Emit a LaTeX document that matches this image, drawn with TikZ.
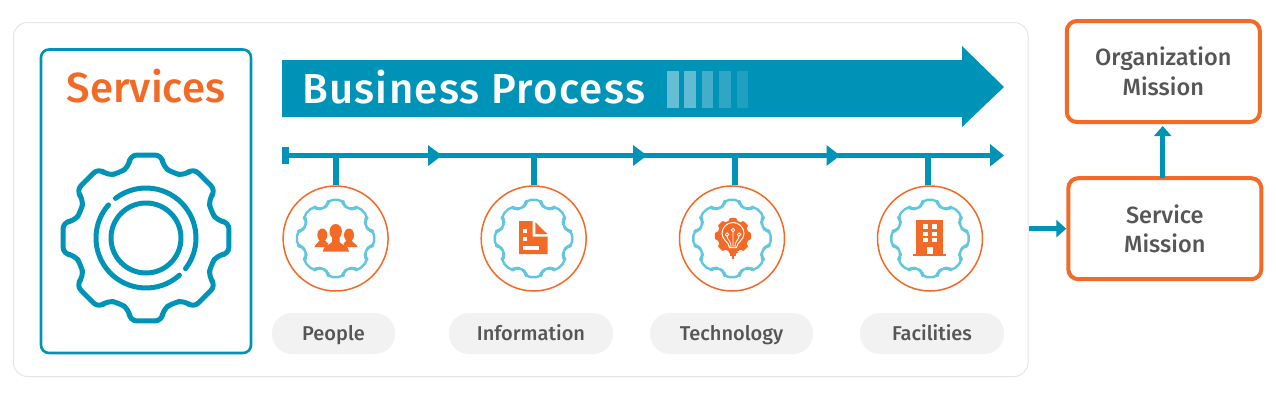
\documentclass[tikz,border=0pt]{standalone}
\usepackage{fontspec}
\setmainfont{Fira Sans}
\usetikzlibrary{arrows.meta,calc}
\definecolor{teal}{HTML}{0093B8}
\definecolor{orng}{HTML}{F26A26}
\definecolor{skyb}{HTML}{62C6DE}
\definecolor{pill}{HTML}{F2F2F2}
\definecolor{ink}{HTML}{565656}
\definecolor{edge}{HTML}{E6E6E6}
\newfontfamily\medfont{Fira Sans Medium}
\newfontfamily\widefont[LetterSpace=3]{Fira Sans Medium}
% gear outline: cx, cy, scale, rounding, style
\newcommand{\gearshape}[5]{%
  \draw[#5,rounded corners=#4] ($(#1,#2)+(22.5:#3*70.5)$)
    foreach \ga in {0,45,...,270}{
      -- ($(#1,#2)+(\ga+45-13.5:#3*73)$)
      -- ($(#1,#2)+(\ga+45-10.9:#3*84.5)$)
      -- ($(#1,#2)+(\ga+45+10.9:#3*84.5)$)
      -- ($(#1,#2)+(\ga+45+13.5:#3*73)$)
      -- ($(#1,#2)+(\ga+67.5:#3*70.5)$)
    }
      -- ($(#1,#2)+(346.5:#3*73)$)
      -- ($(#1,#2)+(349.1:#3*84.5)$)
      -- ($(#1,#2)+(10.9:#3*84.5)$)
      -- ($(#1,#2)+(13.5:#3*73)$)
      -- cycle;}
\tikzset{
  panel/.style={draw=edge,line width=1pt,rounded corners=14pt,fill=white},
  svcbox/.style={draw=teal,line width=2.6pt,rounded corners=8pt,fill=white},
  ring/.style={circle,draw=orng,line width=1.5pt,minimum size=105pt,inner sep=0pt},
  pillbox/.style={fill=pill,rounded corners=20pt,minimum height=41pt,inner sep=0pt,text=ink,text height=17pt,text depth=2.5pt,font=\medfont\fontsize{20}{24}\selectfont},
  mission/.style={draw=orng,line width=4pt,rounded corners=10pt,minimum width=193pt,minimum height=101pt,align=center,inner sep=0pt,text=ink,font=\medfont\fontsize{23.5}{29.5}\selectfont},
  bigarc/.style={draw=teal,line width=5pt,line cap=round},
  biggear/.style={draw=teal,line width=5pt,line join=round},
  smallgear/.style={draw=skyb,line width=2.4pt,line join=round},
  tline/.style={draw=teal,line width=5pt},
  stem/.style={draw=teal,line width=6pt},
  tiptri/.style={fill=teal},
  linkarrow/.style={draw=teal,line width=5pt,-{Triangle[length=10pt,width=17pt]}},
  iconfill/.style={fill=orng},
  holefill/.style={fill=white},
}
\begin{document}
\begin{tikzpicture}[x=1pt,y=-1pt]
\useasboundingbox (0,0) rectangle (1276,400);
\fill[white] (0,0) rectangle (1276,400);
% panel
\draw[panel] (13.5,22.5) rectangle (1028,376.5);
% services box
\draw[svcbox] (41,49.5) rectangle (251,353);
\node[text=orng,inner sep=0pt,font=\medfont\fontsize{42}{46}\selectfont] (services) at (146,86) {Services};
% big gear
\gearshape{146}{238}{1}{7pt}{biggear}
\draw[biggear] (146,238) circle[radius=35];
\draw[bigarc] ($(146,238)+(-127.6:50)$) arc[start angle=-127.6,end angle=37.8,radius=50];
\draw[bigarc] ($(146,238)+(48:50)$) arc[start angle=48,end angle=221.4,radius=50];
% business process arrow
\fill[teal] (282,60) -- (962,60) -- (962,46) -- (1004,87) -- (962,127) -- (962,117) -- (282,117) -- cycle;
\node[anchor=west,text=white,inner sep=0pt,font=\widefont\fontsize{42}{46}\selectfont] (bp) at (302,87.5) {Business Process};
\fill[white,opacity=.40] (667,71) rectangle (678.5,108);
\fill[white,opacity=.38] (684,71) rectangle (696,108);
\fill[white,opacity=.26] (702,71) rectangle (713,108);
\fill[white,opacity=.18] (719,71) rectangle (730.5,108);
\fill[white,opacity=.12] (737,71) rectangle (748,108);
% timeline
\coordinate (tstart) at (285,155.5);
\coordinate (tend) at (995,155.5);
\draw[tline] (tstart) -- (tend);
\fill[teal] (282,147) rectangle (288.5,164);
\fill[tiptri] (428,145) -- (442,155.5) -- (428,166) -- cycle;
\fill[tiptri] (633,145) -- (647,155.5) -- (633,166) -- cycle;
\fill[tiptri] (826.5,145) -- (840,155.5) -- (826.5,166) -- cycle;
\fill[tiptri] (990,144) -- (1004,155.5) -- (990,166.5) -- cycle;
% rings
\node[ring] (c1) at (335.6,238.5) {};
\node[ring] (c2) at (533.7,238.5) {};
\node[ring] (c3) at (732,238.5) {};
\node[ring] (c4) at (930,238.5) {};
\coordinate (t1) at (336,155.5);
\coordinate (t2) at (533.5,155.5);
\coordinate (t3) at (734.5,155.5);
\coordinate (t4) at (928,155.5);
\draw[stem] (t1) -- (t1 |- c1.north);
\draw[stem] (t2) -- (t2 |- c2.north);
\draw[stem] (t3) -- (t3 |- c3.north);
\draw[stem] (t4) -- (t4 |- c4.north);
% small gears
\gearshape{335.6}{238.5}{.465}{4.5pt}{smallgear}
\gearshape{533.5}{238.5}{.465}{4.5pt}{smallgear}
\gearshape{732}{238.5}{.465}{4.5pt}{smallgear}
\gearshape{930}{238.5}{.465}{4.5pt}{smallgear}
% people icon
\fill[iconfill] (322.3,235) ellipse[x radius=5,y radius=6.5];
\fill[iconfill] (349,235) ellipse[x radius=5,y radius=6.5];
\fill[iconfill] (314.5,247) .. controls (315,243.5) and (319,243) .. (320,240) -- (325,240) .. controls (326,243) and (330,243.5) .. (331,247) -- cycle;
\fill[iconfill] (340.5,247) .. controls (341.5,243.5) and (345.5,243) .. (346.5,240) -- (351.5,240) .. controls (352.5,243) and (356.5,243.5) .. (357.5,247) -- cycle;
\fill[white] (326,251.5) .. controls (327,244) and (330.5,242) .. (329,234) -- (342,234) .. controls (341,242) and (345,244) .. (346,251.5) -- cycle;
\fill[iconfill] (335.7,231.5) ellipse[x radius=6.2,y radius=7.5];
\fill[iconfill] (322.7,251.7) .. controls (323,245.5) and (330,245) .. (332,242) -- (332,236) -- (339.5,236) -- (339.5,242) .. controls (341.5,245) and (349,245.5) .. (349,251.7) -- cycle;
% information icon
\fill[iconfill] (519,221) -- (532.7,221) -- (532.7,236.7) -- (547.7,236.7) -- (547.7,254) -- (519,254) -- cycle;
\fill[iconfill] (535.3,222.3) -- (547.3,234) -- (535.3,234) -- cycle;
\fill[holefill] (523.3,229.3) rectangle (527.3,233.3);
\fill[holefill] (523.3,237.3) rectangle (527.3,241.3);
\fill[holefill] (523.3,246) rectangle (539.3,250);
% technology icon
\gearshape{733}{236}{.215}{1pt}{fill=orng,draw=orng,line width=.5pt}
\fill[iconfill] (733,236) circle[radius=14.5];
\draw[white,line width=1pt] (729.5,247.5) .. controls (729,242) and (722,240) .. (722,233.5) arc[start angle=180,end angle=360,radius=11] .. controls (744,240) and (737,242) .. (736.5,247.5) -- cycle;
\draw[white,line width=.8pt] (733,232) -- (733,247) (727,236) .. controls (727,240) and (731,240) .. (731,247) (739,236) .. controls (739,240) and (735,240) .. (735,247);
\filldraw[fill=orng,draw=white,line width=.8pt] (733,230) circle[radius=1.7] (727,234.5) circle[radius=1.7] (739,234.5) circle[radius=1.7];
\draw[orng,line width=1.1pt] (727.5,250) -- (738.5,250) (728.5,252.5) -- (737.5,252.5) (730,255) -- (736,255) (733,250) -- (733,259);
% facilities icon
\fill[iconfill] (916,219.5) rectangle (943.3,254.5);
\fill[iconfill] (913.3,254.3) rectangle (946,256.3);
\foreach \wy in {224,231.7,237.7}{
  \fill[holefill] (922.7,\wy) rectangle (928,\wy+4.7);
  \fill[holefill] (932,\wy) rectangle (937.3,\wy+4.7);
}
\fill[holefill] (927.3,246.7) rectangle (932.7,254.3);
% pills
\node[pillbox,minimum width=123pt] (p1) at (333.5,333.5) {People};
\node[pillbox,minimum width=164pt] (p2) at (531,333.5) {Information};
\node[pillbox,minimum width=163pt] (p3) at (731.5,333.5) {Technology};
\node[pillbox,minimum width=144pt] (p4) at (932,333.5) {Facilities};
% mission boxes
\node[mission] (org) at (1163.3,71.5) {Organization\\Mission};
\node[mission] (svc) at (1164.8,228.7) {Service\\Mission};
\coordinate (panelout) at (1029,228.5);
\draw[linkarrow] (panelout) -- (svc.west);
\coordinate (upfoot) at (1162.7,178);
\draw[linkarrow,shorten >=2pt] (upfoot) -- (upfoot |- org.south);
\end{tikzpicture}
\end{document}
